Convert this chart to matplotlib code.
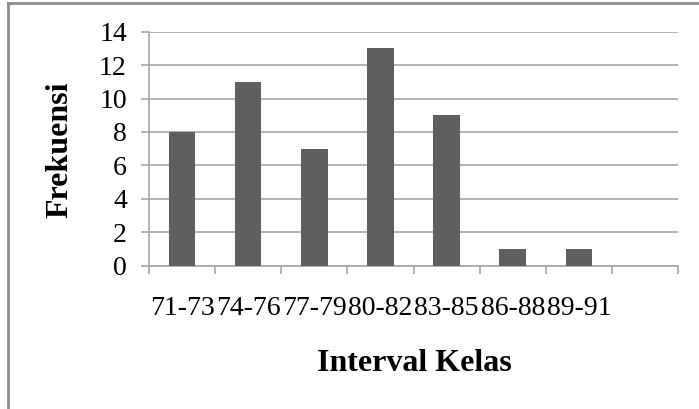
import matplotlib
matplotlib.use("Agg")
import matplotlib.pyplot as plt
from matplotlib.lines import Line2D
import numpy as np

categories = ["71-73", "74-76", "77-79", "80-82", "83-85", "86-88", "89-91"]
frekuensi = [8, 11, 7, 13, 9, 1, 1]
n_slots = 8  # chart has one empty trailing category slot
yticks = [0, 2, 4, 6, 8, 10, 12, 14]

plt.rcParams['font.family'] = ['Liberation Serif', 'DejaVu Serif']

W, H = 699, 409
fig = plt.figure(figsize=(W / 100, H / 100), dpi=100)
left, right, top, bottom = 149, 678, 31.7, 265.7
ax = fig.add_axes([left / W, 1 - bottom / H, (right - left) / W, (bottom - top) / H])

grid_c = '#a6a6a6'
bar_c = '#5f5f5f'

x = np.arange(len(categories))
ax.bar(x, frekuensi, width=0.4, color=bar_c, zorder=3)

ax.set_xlim(-0.5, n_slots - 0.5)
ax.set_ylim(0, 14)
ax.set_yticks(yticks)
ax.set_yticklabels([str(v) for v in yticks], fontsize=20)
ax.yaxis.grid(True, color=grid_c, linewidth=1.2, zorder=0)
ax.set_axisbelow(True)

ax.set_xticks(x)
ax.set_xticklabels(categories, fontsize=20)
ax.set_xticks(np.arange(n_slots + 1) - 0.5, minor=True)
ax.tick_params(axis='x', which='major', length=0, pad=22)
ax.tick_params(axis='x', which='minor', length=6, width=1.2, color=grid_c, direction='out')
ax.tick_params(axis='y', which='major', length=6, width=1.2, color=grid_c, pad=10)

for s in ['top', 'right']:
    ax.spines[s].set_visible(False)
for s in ['left', 'bottom']:
    ax.spines[s].set_color(grid_c)
    ax.spines[s].set_linewidth(1.2)

ax.set_xlabel('Interval Kelas', fontsize=23, fontweight='bold', va='center')
ax.xaxis.set_label_coords((414 - left) / (right - left), (bottom - 364) / (bottom - top))
ax.set_ylabel('Frekuensi', fontsize=23, fontweight='bold', va='center')
ax.yaxis.set_label_coords((60 - left) / (right - left), (bottom - 150) / (bottom - top))

# outer chart-area border (only top and left visible)
border_c = '#8c8c8c'
fig.add_artist(Line2D([8 / W, 1], [1 - 3 / H, 1 - 3 / H], color=border_c, linewidth=2, transform=fig.transFigure))
fig.add_artist(Line2D([8 / W, 8 / W], [0, 1 - 3 / H], color=border_c, linewidth=2, transform=fig.transFigure))

fig.savefig('out.png', dpi=100)
